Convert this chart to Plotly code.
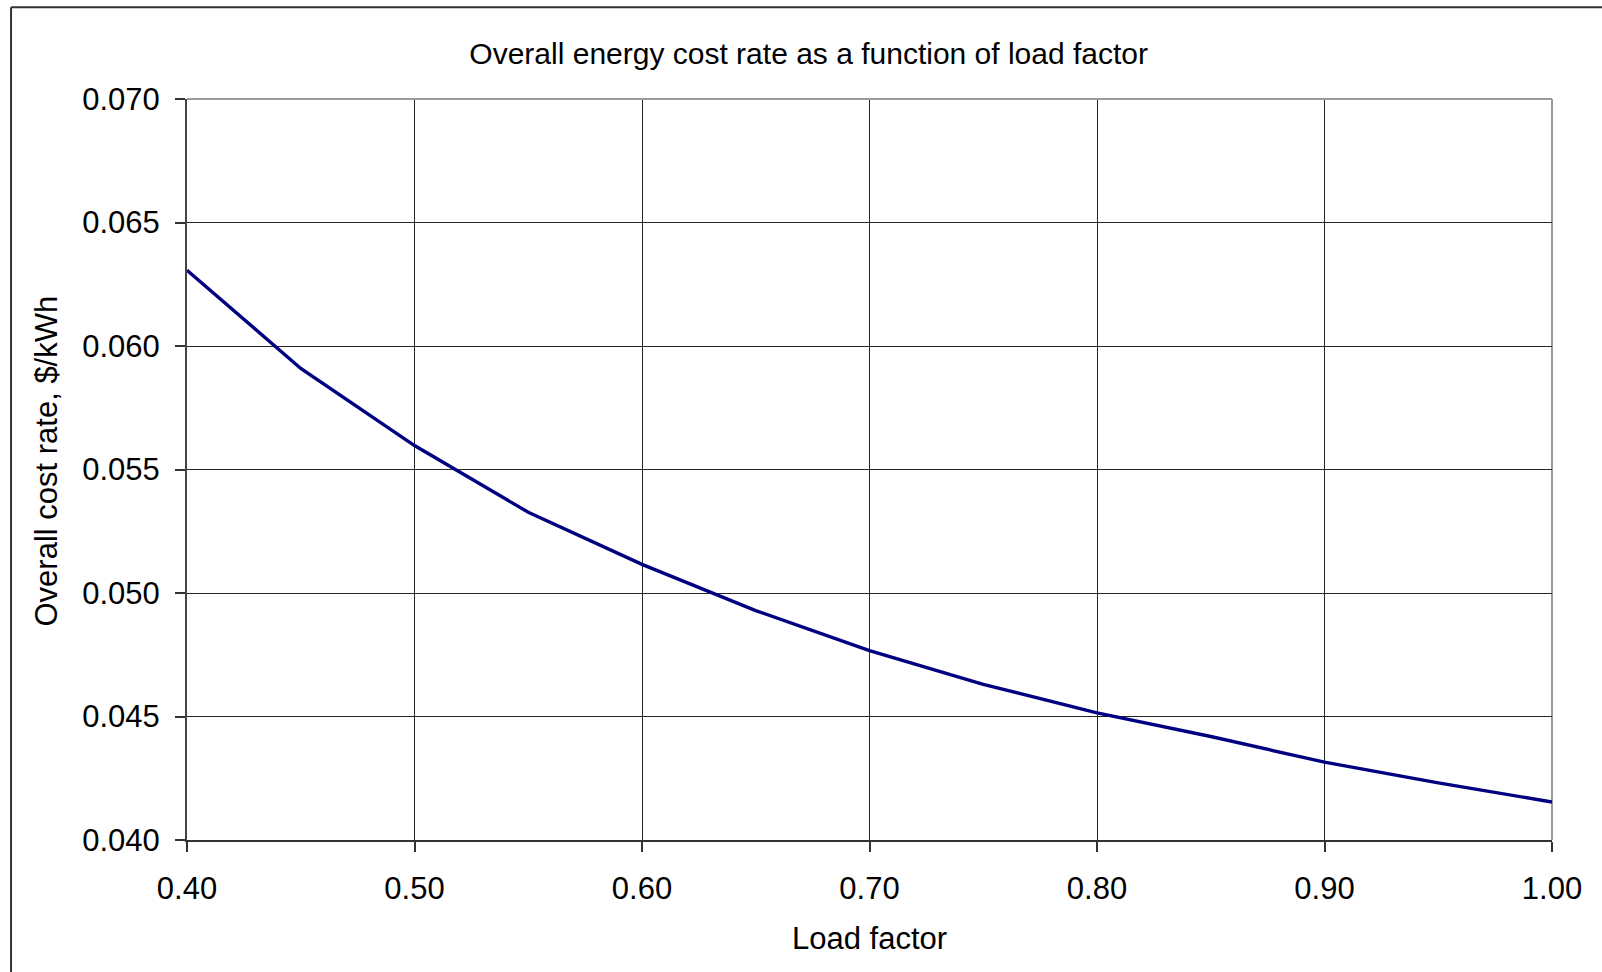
import plotly.graph_objects as go

# Data
load_factor = [0.40, 0.45, 0.50, 0.55, 0.60, 0.65, 0.70, 0.75, 0.80, 0.85, 0.90, 0.95, 1.00]
cost_rate = [0.06307, 0.05909, 0.05597, 0.05327, 0.05116, 0.04929, 0.04767, 0.04630,
             0.04515, 0.04419, 0.04315, 0.04231, 0.04154]

x_ticks = [0.40, 0.50, 0.60, 0.70, 0.80, 0.90, 1.00]
y_ticks = [0.040, 0.045, 0.050, 0.055, 0.060, 0.065, 0.070]

title_text = "Overall energy cost rate as a function of load factor"
x_title = "Load factor"
y_title = "Overall cost rate, $/kWh"

W, H = 1602, 972
L, R, T, B = 187, 1552.3, 98.7, 840.3
pw, ph = R - L, B - T

def px_x(x):
    return (x - L) / pw

def px_y(y):
    return (B - y) / ph

font_family = "Liberation Sans, Arial, sans-serif"

fig = go.Figure()
fig.add_trace(go.Scatter(
    x=load_factor, y=cost_rate, mode="lines",
    line=dict(color="#000080", width=3.4),
    showlegend=False, hoverinfo="x+y",
))

fig.update_layout(
    width=W, height=H, autosize=False,
    margin=dict(l=L, r=W - R, t=T, b=H - B, pad=0),
    paper_bgcolor="white", plot_bgcolor="white",
    font=dict(family=font_family, size=31, color="black"),
    title=dict(text=title_text, x=808.7 / W, y=1 - 53 / H,
               xanchor="center", yanchor="middle",
               font=dict(family=font_family, size=30, color="black")),
    xaxis=dict(
        range=[0.40, 1.00], tickvals=x_ticks, tickformat=".2f",
        showgrid=True, gridcolor="#262626", gridwidth=1,
        showline=True, linecolor="#333333", linewidth=2,
        ticks="outside", ticklen=10, tickwidth=1.5, tickcolor="#333333",
        zeroline=False, ticklabelstandoff=10,
        tickfont=dict(family=font_family, size=31, color="black"),
    ),
    yaxis=dict(
        range=[0.040, 0.070], tickvals=y_ticks, tickformat=".3f",
        showgrid=True, gridcolor="#262626", gridwidth=1,
        showline=True, linecolor="#444444", linewidth=2,
        ticks="outside", ticklen=10, tickwidth=1.5, tickcolor="#333333",
        zeroline=False, ticklabelstandoff=9,
        tickfont=dict(family=font_family, size=31, color="black"),
    ),
    annotations=[
        dict(text=x_title, xref="paper", yref="paper",
             x=px_x(870), y=px_y(939), xanchor="center", yanchor="middle",
             showarrow=False, font=dict(family=font_family, size=31, color="black")),
        dict(text=y_title, xref="paper", yref="paper", textangle=-90,
             x=px_x(46), y=px_y(461.5), xanchor="center", yanchor="middle",
             showarrow=False, font=dict(family=font_family, size=31, color="black")),
    ],
    shapes=[
        # plot-area top/right border (grey)
        dict(type="line", xref="paper", yref="paper", x0=0, x1=1, y0=1, y1=1,
             line=dict(color="#9a9a9a", width=2), layer="above"),
        dict(type="line", xref="paper", yref="paper", x0=1, x1=1, y0=0, y1=1,
             line=dict(color="#9a9a9a", width=2), layer="below"),
        # outer chart border (left and top visible)
        dict(type="line", xref="paper", yref="paper",
             x0=px_x(11), x1=px_x(11), y0=px_y(7), y1=px_y(990),
             line=dict(color="#333333", width=2)),
        dict(type="line", xref="paper", yref="paper",
             x0=px_x(11), x1=px_x(1620), y0=px_y(7), y1=px_y(7),
             line=dict(color="#333333", width=2)),
    ],
)

fig.write_html("out.html")
